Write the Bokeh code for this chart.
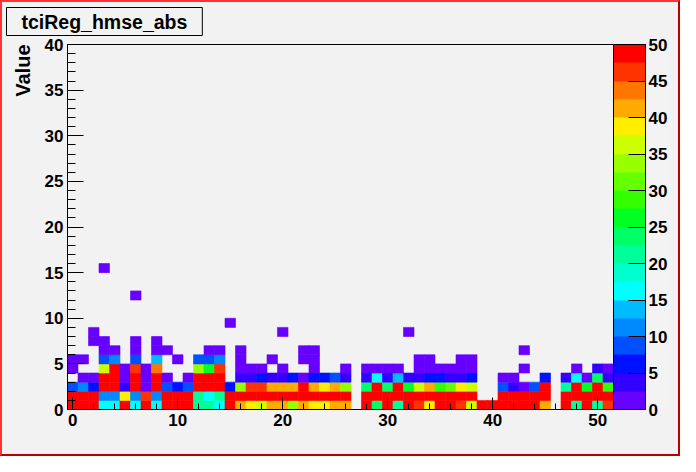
from bokeh.plotting import figure
from bokeh.models import (LinearColorMapper, ColorBar, SingleIntervalTicker, Title,
                          Range1d, ColumnDataSource, InlineStyleSheet)
from bokeh.transform import transform
from bokeh.embed import file_html
from bokeh.resources import INLINE

# ---- data: bin contents, row j = y bin [j, j+1], 52 x-bins centred on 0..51 ----
row0 = [55,55,55,16,16,55,16,55,16,55,55,55,21,21,16,55,41,39,36,41,41,34,41,39,39,41,41,0,
        55,24,55,21,55,46,39,55,55,46,36,55,55,55,55,55,55,41,0,55,21,55,21,46]
row1 = [55,55,55,11,11,39,11,46,11,55,55,55,21,16,21,55,55,55,55,55,55,55,55,55,55,55,55,0,
        55,55,55,55,55,55,55,55,55,55,55,0,0,55,55,55,55,55,0,55,55,55,55,55]
row2 = [9,11,6,55,55,4,55,1,55,9,6,9,55,55,55,6,34,46,46,41,41,41,55,41,39,41,34,0,
        24,55,24,55,26,36,41,29,31,39,36,0,0,9,4,1,9,55,0,21,55,26,55,29]
row3 = [0,1,1,55,55,1,55,1,55,1,0,1,55,55,55,0,4,4,6,4,4,6,1,6,6,9,4,0,
        4,16,4,14,4,4,6,6,4,4,6,0,0,1,1,0,0,6,0,4,16,1,24,4]
row4 = [1,0,0,36,55,1,46,1,44,0,0,0,34,26,46,0,1,1,1,0,1,0,0,1,0,0,1,0,
        1,1,1,1,0,1,1,1,1,1,1,0,0,0,0,1,0,0,0,0,1,0,4,1]
row5 = [1,1,0,9,11,0,9,0,14,0,1,0,9,9,11,0,1,0,0,1,0,0,1,1,0,0,0,0,
        0,0,0,0,0,1,1,0,0,1,1,0,0,0,0,0,0,0,0,0,0,0,0,0]
dense_rows = [row0, row1, row2, row3, row4, row5]

# sparse cells above row 5
sparse_x = [3, 4, 6, 8, 9, 13, 14, 16, 22, 23, 43, 2, 3, 6, 8, 2, 20, 32, 15, 6, 3]
sparse_y = [6, 6, 6, 6, 6, 6, 6, 6, 6, 6, 6, 7, 7, 7, 7, 8, 8, 8, 9, 12, 15]
sparse_v = [1] * len(sparse_x)

PALETTE = ["#6600ff", "#3300ff", "#0011ff", "#0050ff", "#0088ff", "#00bbff", "#00ffff",
           "#00ffcc", "#00ff99", "#00ff66", "#00ff22", "#33ff00", "#66ff00", "#99ff00",
           "#ccff00", "#ffee00", "#ffaa00", "#ff7700", "#ff3300", "#ff0000"]

xs, ys, vs = [], [], []
for j, r in enumerate(dense_rows):
    for i, v in enumerate(r):
        if v > 0:
            xs.append(i); ys.append(j); vs.append(v)
for i, j, v in zip(sparse_x, sparse_y, sparse_v):
    xs.append(i); ys.append(j); vs.append(v)

src = ColumnDataSource(dict(left=[x - 0.5 for x in xs], right=[x + 0.5 for x in xs],
                            bottom=ys, top=[y + 1 for y in ys], v=vs))

mapper = LinearColorMapper(palette=PALETTE, low=0, high=50, high_color="#ff0000")

FONT = "Liberation Sans"
BG = "#f2f2f2"

border_css = InlineStyleSheet(css="""
:host { position: relative; }
:host::after {
  content: ""; position: absolute; left: 0; top: 0; right: 0; bottom: 0;
  box-sizing: border-box; border-style: solid; border-width: 2px;
  border-color: #ff3333 #bb0000 #bb0000 #ff3333; pointer-events: none; z-index: 50;
}
""")

p = figure(width=680, height=456, x_range=Range1d(-0.5, 51.5), y_range=Range1d(0, 40),
           output_backend="svg", toolbar_location=None,
           min_border_left=67, min_border_right=67, min_border_top=44, min_border_bottom=47,
           background_fill_color=BG, border_fill_color=BG, outline_line_color="black",
           title="tciReg_hmse_abs")
p.stylesheets = [border_css]
p.grid.visible = False

p.title.align = "left"
p.title.vertical_align = "top"
p.title.offset = -61
p.title.standoff = 14
p.title.text_font = FONT
p.title.text_font_style = "bold"
p.title.text_font_size = "19.5px"
p.title.text_color = "black"
p.title.background_fill_color = BG
p.title.border_line_color = "black"
p.title.border_line_width = 1
p.title.padding = (15, 3)

p.quad(left="left", right="right", bottom="bottom", top="top", source=src,
       fill_color=transform("v", mapper), line_color=transform("v", mapper), line_width=0.6)

for ax, interval, tin, mtin in ((p.xaxis[0], 10, 12, 6), (p.yaxis[0], 5, 16, 8)):
    ax.ticker = SingleIntervalTicker(interval=interval, num_minor_ticks=5)
    ax.major_tick_in = tin
    ax.major_tick_out = 0
    ax.minor_tick_in = mtin
    ax.minor_tick_out = 0
    ax.axis_line_color = "black"
    ax.major_tick_line_color = "black"
    ax.minor_tick_line_color = "black"
    ax.major_label_text_font = FONT
    ax.major_label_text_font_style = "bold"
    ax.major_label_text_font_size = "17px"
    ax.major_label_text_color = "black"
    ax.major_label_standoff = 4

cb = ColorBar(color_mapper=mapper, width=32, padding=0, margin=0,
              ticker=SingleIntervalTicker(interval=5, num_minor_ticks=0),
              major_tick_in=17, major_tick_out=0, major_tick_line_color="black",
              minor_tick_line_color=None, bar_line_color="black",
              background_fill_color=BG, border_line_color=None, label_standoff=3,
              major_label_text_font=FONT, major_label_text_font_style="bold",
              major_label_text_font_size="17px", major_label_text_color="black")
p.add_layout(cb, "right")

ytitle = Title(text="Value", align="right", vertical_align="middle", offset=0, standoff=14,
               text_font=FONT, text_font_style="bold", text_font_size="20px",
               text_color="black")
p.add_layout(ytitle, "left")

open("out.html", "w").write(file_html(p, INLINE))
